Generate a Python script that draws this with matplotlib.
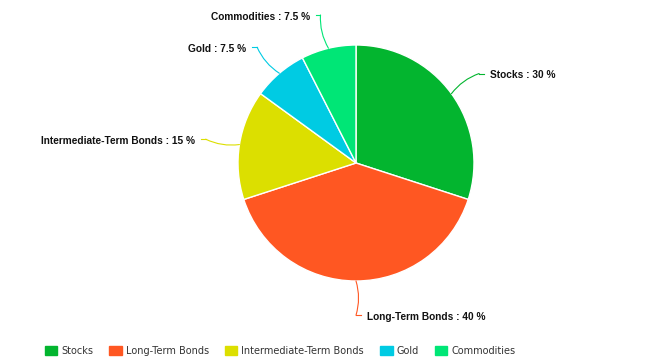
import numpy as np
import matplotlib
matplotlib.use("Agg")
import matplotlib.pyplot as plt

categories = ["Stocks", "Long-Term Bonds", "Intermediate-Term Bonds", "Gold", "Commodities"]
values = [30, 40, 15, 7.5, 7.5]
colors = ["#03b52f", "#ff5722", "#dcdf00", "#00cbe3", "#00e676"]

W, H = 664, 364
fig = plt.figure(figsize=(W / 100, H / 100), dpi=100)
ax = fig.add_axes([0, 0, 1, 1])
cx, cy, rpx = 356, 163, 118

wedges, _ = ax.pie(values, colors=colors, startangle=90, counterclock=False,
                   radius=1.0, center=(0, 0),
                   wedgeprops=dict(edgecolor="white", linewidth=1.0))
ax.set_xlim(-cx / rpx, (W - cx) / rpx)
ax.set_ylim(-(H - cy) / rpx, cy / rpx)
ax.axis("off")

for w, cat, val, col in zip(wedges, categories, values, colors):
    ang = np.deg2rad((w.theta1 + w.theta2) / 2)
    ex, ey = np.cos(ang), np.sin(ang)
    tx, ty = 1.29 * np.cos(ang), 1.29 * np.sin(ang)
    right = np.cos(ang) >= -1e-6
    hook = 0.04 if right else -0.04
    ax.annotate("", xy=(ex, ey), xytext=(tx, ty),
                arrowprops=dict(arrowstyle="-", color=col, lw=0.8,
                                connectionstyle="arc3,rad=0.15", shrinkA=0, shrinkB=0))
    ax.plot([tx, tx + hook], [ty, ty], color=col, lw=0.8)
    lab = f"{cat} : {val:g} %"
    ax.text(tx + hook + (0.05 if right else -0.05), ty - 0.015, lab,
            ha="left" if right else "right", va="center",
            fontsize=7.3, fontweight="bold", family="Liberation Sans", color="#111111")

handles = [plt.Rectangle((0, 0), 1, 1, color=c) for c in colors]
leg = fig.legend(handles, categories, loc="center", bbox_to_anchor=(0.4217, 0.036),
                 ncol=5, frameon=False, handlelength=1.3, handleheight=1.1,
                 handletextpad=0.4, columnspacing=1.65,
                 prop=dict(family="DejaVu Sans", size=7))
for t in leg.get_texts():
    t.set_color("#333333")

fig.savefig("out.png", dpi=100, facecolor="white")
